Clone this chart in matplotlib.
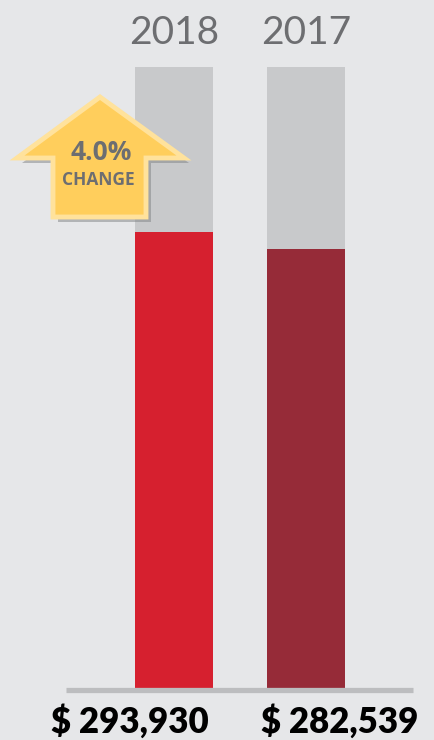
import numpy as np
import matplotlib.pyplot as plt
from matplotlib.patches import Polygon
from matplotlib.lines import Line2D

# Data
years = ['2018', '2017']
values = [293930, 282539]
scale_max = 400000
change_label = '4.0%'
bar_colors = ['#D6202F', '#962B38']

W, H = 435, 740
fig = plt.figure(figsize=(W / 100, H / 100), dpi=100)
fig.patch.set_facecolor('#E6E7E9')

# axes placed so that 0 sits on the baseline and scale_max at top of gray bars
y0_px, ytop_px = 688, 67
ax = fig.add_axes([0, (H - y0_px) / H, 1, (y0_px - ytop_px) / H])
ax.set_facecolor('none')
x = np.arange(len(years))
step = 132
ax.set_xlim(-174 / step, (W - 174) / step)
ax.set_ylim(0, scale_max)
width = 78 / step
ax.bar(x, [scale_max] * len(x), width=width, color='#C8C9CB', zorder=1)
ax.bar(x, values, width=width, color=bar_colors, zorder=2)
ax.axis('off')

label_shift = [-0.333, 0.258]  # value labels sit off-centre of bars
for xi, yr, v, dx in zip(x, years, values, label_shift):
    ax.text(xi, scale_max * 1.055, yr, ha='center', va='center',
            fontsize=28, color='#6D6E71', family='Lato')
    ax.text(xi + dx, -scale_max * 0.053, f'$ {v:,}', ha='center', va='center',
            fontsize=25, fontweight='heavy', color='#000000', family='Lato',
            clip_on=False)

# baseline
fig.add_artist(Line2D([66 / W, 413 / W], [1 - 689.5 / H] * 2, color='#BCBDBF',
                      lw=3.8, solid_capstyle='butt'))

# arrow badge
pts = np.array([(100, 97), (184, 158), (146, 158), (146, 217),
                (53, 217), (53, 158), (17, 158)], dtype=float)
def to_fig(p):
    return np.column_stack([p[:, 0] / W, 1 - p[:, 1] / H])
shadow = pts + np.array([5, 5])
fig.add_artist(Polygon(to_fig(shadow), closed=True, facecolor='#808285',
                       alpha=0.5, edgecolor='none', transform=fig.transFigure))
fig.add_artist(Polygon(to_fig(pts), closed=True, facecolor='#FFCE5C',
                       edgecolor='#FFE29C', lw=3.5, joinstyle='miter',
                       transform=fig.transFigure))
fig.text(101 / W, 1 - 153 / H, change_label, ha='center', va='center',
         fontsize=19, fontweight='bold', color='#6D6E71', family='Open Sans')
fig.text(98 / W, 1 - 180 / H, 'CHANGE', ha='center', va='center',
         fontsize=12.5, fontweight='bold', color='#6D6E71', family='Open Sans')

fig.savefig('out.png', dpi=100, facecolor=fig.get_facecolor())
